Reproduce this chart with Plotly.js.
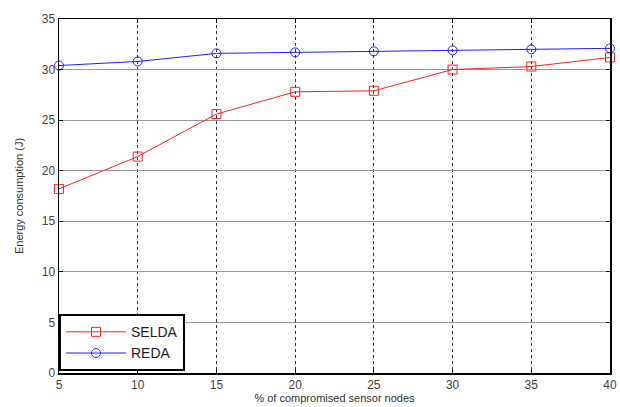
<!DOCTYPE html>
<html><head><meta charset="utf-8">
<script src="https://cdn.plot.ly/plotly-3.0.1.min.js"></script>
<style>body{margin:0;background:#fff}#c{width:620px;height:407px}</style>
</head><body><div id="c"></div>
<script>
const xVals = [5, 10, 15, 20, 25, 30, 35, 40];
const selda = [18.2, 21.4, 25.6, 27.8, 27.9, 30.0, 30.3, 31.2];
const reda = [30.4, 30.8, 31.6, 31.7, 31.8, 31.9, 32.0, 32.1];
const xTicks = [5, 10, 15, 20, 25, 30, 35, 40];
const yTicks = [0, 5, 10, 15, 20, 25, 30, 35];

const traces = [
  {x: xVals, y: selda, name: 'SELDA', mode: 'lines+markers', cliponaxis: false,
   line: {color: '#ff2020', width: 1}, marker: {symbol: 'square-open', size: 9, color: '#ff2020', line: {width: 1}}},
  {x: xVals, y: reda, name: 'REDA', mode: 'lines+markers', cliponaxis: false,
   line: {color: '#2020ff', width: 1}, marker: {symbol: 'circle-open', size: 9, color: '#2020ff', line: {width: 1}}}
];
const layout = {
  width: 620, height: 407,
  margin: {l: 59, r: 10, t: 19, b: 34},
  paper_bgcolor: '#fff', plot_bgcolor: '#fff',
  font: {family: 'Liberation Sans, Arial, sans-serif', size: 12, color: '#333'},
  showlegend: true,
  legend: {x: 0, y: 0.005, xanchor: 'left', yanchor: 'bottom', bgcolor: '#fff', bordercolor: '#000', borderwidth: 2,
           font: {size: 14, color: '#222'}, tracegroupgap: 0, itemwidth: 60, entrywidth: 110},
  xaxis: {range: [5, 40], tickvals: xTicks, ticks: 'inside', ticklen: 4, tickcolor: '#000', mirror: 'ticks',
          showline: true, linecolor: '#000', linewidth: 1.5, showgrid: true, gridcolor: '#333', griddash: 'dot', gridwidth: 1,
          zeroline: false, tickfont: {size: 12, color: '#444'},
          title: {text: '% of compromised sensor nodes', font: {size: 11, color: '#333'}, standoff: 2}},
  yaxis: {range: [0, 35], tickvals: yTicks, ticks: 'inside', ticklen: 4, tickcolor: '#000', mirror: 'ticks',
          showline: true, linecolor: '#000', linewidth: 1.5, showgrid: true, gridcolor: '#999', gridwidth: 1,
          zeroline: false, tickfont: {size: 12, color: '#444'},
          title: {text: 'Energy consumption (J)', font: {size: 11, color: '#333'}, standoff: 16}}
};
Plotly.newPlot('c', traces, layout, {displayModeBar: false, staticPlot: true});
</script></body></html>
